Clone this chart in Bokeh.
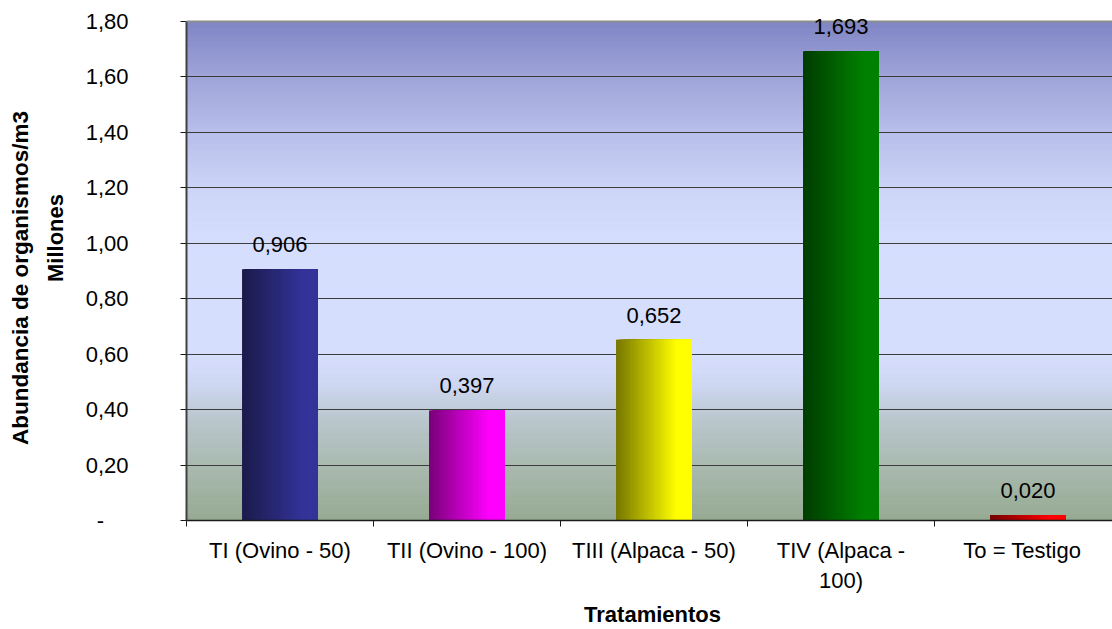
import numpy as np
from bokeh.plotting import figure
from bokeh.models import (Range1d, FixedTicker, LinearAxis, Grid, ColumnDataSource,
                          LabelSet, CustomJSTickFormatter, Span)
from bokeh.core.properties import value
from bokeh.embed import file_html
from bokeh.resources import INLINE

# ---- data -----------------------------------------------------------------
categories = ["TI (Ovino - 50)", "TII (Ovino - 100)", "TIII (Alpaca - 50)",
              "TIV (Alpaca - 100)", "To = Testigo"]
category_ticks = ["TI (Ovino - 50)", "TII (Ovino - 100)", "TIII (Alpaca - 50)",
                  "TIV (Alpaca -\n100)", "To = Testigo"]
abundance = [0.906, 0.397, 0.652, 1.693, 0.020]          # millions of organisms / m3
y_ticks = [0.0, 0.2, 0.4, 0.6, 0.8, 1.0, 1.2, 1.4, 1.6, 1.8]
y_tick_labels = ["-\u00a0\u00a0\u00a0\u00a0", "0,20", "0,40", "0,60", "0,80",
                 "1,00", "1,20", "1,40", "1,60", "1,80"]
y_max = 1.8

# ---- styling ----------------------------------------------------------------
FONT = "Liberation Sans"
FS = "22px"
NBSP = "\u00a0"
bar_bright = ["#333399", "#ff00ff", "#ffff00", "#008000", "#ff0000"]
bar_dark = ["#1b1b4b", "#780078", "#767600", "#003c00", "#740000"]
bar_width = 0.406

def mix(c1, c2, t):
    a = np.array([int(c1[i:i + 2], 16) for i in (1, 3, 5)], float)
    b = np.array([int(c2[i:i + 2], 16) for i in (1, 3, 5)], float)
    c = a + (b - a) * t
    return "#%02x%02x%02x" % tuple(int(round(v)) for v in c)

# the frame reaches a little above the top gridline so the tallest value
# label is not clipped; the plot area itself stops at y_max
frame_px, area_px = 510, 499
p = figure(width=1112, height=629,
           x_range=Range1d(0, 4.952), y_range=Range1d(0, y_max * frame_px / area_px),
           x_axis_type=None, y_axis_type=None,
           output_backend="svg", toolbar_location=None,
           min_border_left=186, min_border_right=0,
           min_border_top=10, min_border_bottom=109)
p.outline_line_color = None
p.background_fill_color = "white"
p.border_fill_color = "white"

# plot-area gradient (fraction of height -> colour)
stops = [(0.00, "#96aa92"), (0.10, "#a7b8ac"), (0.20, "#b9c6cc"),
         (0.27, "#cdd6f0"), (0.33, "#d6defd"), (0.55, "#d6defe"),
         (0.65, "#cfd7f9"), (0.78, "#b7beea"), (0.90, "#9ca2d7"),
         (1.00, "#8086c4")]
n_bg = 180
edges = np.linspace(0, y_max, n_bg + 1)
bg_cols = []
for k in range(n_bg):
    f = (edges[k] + edges[k + 1]) / 2 / y_max
    for j in range(len(stops) - 1):
        if stops[j][0] <= f <= stops[j + 1][0]:
            t = (f - stops[j][0]) / (stops[j + 1][0] - stops[j][0])
            bg_cols.append(mix(stops[j][1], stops[j + 1][1], t))
            break
bg = p.quad(left=0, right=5, bottom=edges[:-1], top=edges[1:],
            fill_color=bg_cols, line_color=bg_cols, line_width=1)
bg.level = "image"

# horizontal grid
p.add_layout(Grid(dimension=1, ticker=FixedTicker(ticks=y_ticks[:-1]),
                  grid_line_color="#3c3c3c", grid_line_width=1))
p.add_layout(Span(location=y_max, dimension="width", line_color="#8c8c8c", line_width=2))

# bars with a left-to-right shading; each strip runs to the bar's right edge
# and the next one is painted over it, so no seams show
n_strip = 60
for i, v in enumerate(abundance):
    left0 = i + 0.5 - bar_width / 2
    ls = left0 + np.arange(n_strip) * bar_width / n_strip
    cols = [mix(bar_dark[i], bar_bright[i], min(1.0, (k + 0.5) / n_strip / 0.8))
            for k in range(n_strip)]
    p.quad(left=ls, right=left0 + bar_width, bottom=0, top=v,
           fill_color=cols, line_color=None)

# value labels above bars
src = ColumnDataSource(dict(x=[i + 0.5 for i in range(len(abundance))],
                            y=abundance,
                            label=[f"{v:.3f}".replace(".", ",") for v in abundance]))
p.add_layout(LabelSet(x="x", y="y", text="label", source=src, y_offset=17,
                      text_align="center", text_baseline="alphabetic",
                      text_font=value(FONT), text_font_size=value(FS),
                      text_color="black"))

# x axis: labels at category centres, tick marks between categories
xfmt = CustomJSTickFormatter(args=dict(labels=category_ticks),
                             code="return labels[Math.floor(tick)];")
xaxis = LinearAxis(ticker=FixedTicker(ticks=[0.5, 1.5, 2.5, 3.5, 4.47],
                                      minor_ticks=list(range(len(categories) + 1))),
                   formatter=xfmt,
                   axis_line_color="#1a1a1a", axis_line_width=1.5,
                   major_tick_line_color=None,
                   minor_tick_in=0, minor_tick_out=6,
                   minor_tick_line_color="#1a1a1a", minor_tick_line_width=1,
                   major_label_standoff=11,
                   major_label_text_font=FONT, major_label_text_font_size=FS,
                   major_label_text_color="black",
                   axis_label=NBSP + "Tratamientos", axis_label_standoff=6,
                   axis_label_text_font=FONT, axis_label_text_font_size=FS,
                   axis_label_text_font_style="bold", axis_label_text_color="black")
p.add_layout(xaxis, "below")

# y axis with ticks, labels and the unit caption
yfmt = CustomJSTickFormatter(args=dict(vals=y_ticks, labels=y_tick_labels),
                             code="""
const i = vals.findIndex(t => Math.abs(t - tick) < 1e-6);
return i >= 0 ? labels[i] : '';
""")
yaxis = LinearAxis(ticker=FixedTicker(ticks=y_ticks), formatter=yfmt,
                   bounds=(0, y_max),
                   axis_line_color="#404040", axis_line_width=2,
                   major_tick_in=0, major_tick_out=6,
                   major_tick_line_color="#1a1a1a",
                   minor_tick_line_color=None,
                   major_label_standoff=52,
                   major_label_text_font=FONT, major_label_text_font_size=FS,
                   major_label_text_color="black",
                   axis_label=NBSP * 9 + "Millones", axis_label_standoff=15,
                   axis_label_text_font=FONT, axis_label_text_font_size=FS,
                   axis_label_text_font_style="bold", axis_label_text_color="black")
p.add_layout(yaxis, "left")

# outer axis carrying only the title
title_axis = LinearAxis(ticker=FixedTicker(ticks=[]),
                        axis_line_color=None, major_tick_line_color=None,
                        minor_tick_line_color=None,
                        axis_label="Abundancia de organismos/m3" + NBSP * 4,
                        axis_label_standoff=7,
                        axis_label_text_font=FONT, axis_label_text_font_size="22.5px",
                        axis_label_text_font_style="bold", axis_label_text_color="black")
p.add_layout(title_axis, "left")

open("out.html", "w").write(file_html(p, INLINE))
